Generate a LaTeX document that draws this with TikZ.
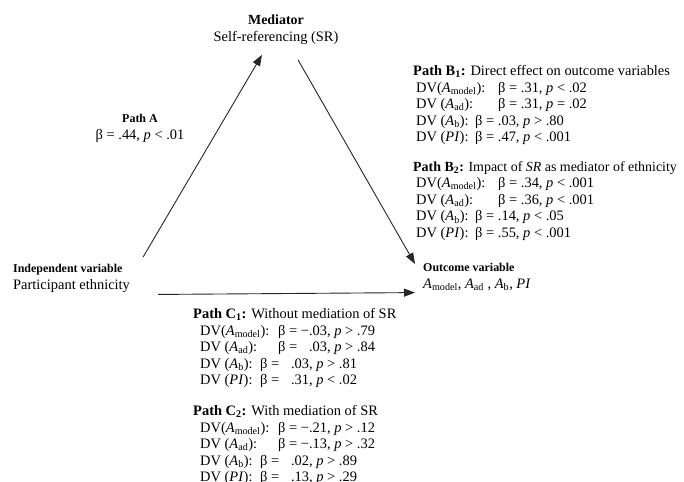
\documentclass[tikz,border=0pt]{standalone}
\usepackage{fontspec}
\setmainfont{Liberation Serif}
\usetikzlibrary{arrows.meta}

\newcommand{\Asub}[1]{\textit{A}\textsubscript{#1}}
\newcommand{\pv}{\textit{p}}

\tikzset{
  arr/.style={-{Triangle[length=11bp,width=8bp]}, line width=0.9bp, draw=black!85},
  txt/.style={font=\fontsize{14.5}{16.7}\selectfont, inner sep=0pt, align=left},
  hd/.style={font=\fontsize{12}{14}\selectfont\bfseries},
}

\begin{document}
\begin{tikzpicture}[x=1bp,y=-1bp]
        \useasboundingbox (0,0) rectangle (684,482);
        % the three variables
        \node[txt, align=center, anchor=north] (med) at (276,15)
          {{\fontsize{14}{16}\selectfont\bfseries Mediator}\\Self-referencing (SR)};
        \node[txt, anchor=north west] (indep) at (13,264)
          {{\fontsize{12}{14}\selectfont\bfseries Independent variable}\\Participant ethnicity};
        \node[txt, anchor=north west] (outc) at (423,263)
          {{\fontsize{12}{14}\selectfont\bfseries Outcome variable}\\\Asub{model}, \Asub{ad} , \Asub{b}, \textit{PI}};
        % paths
        \draw[arr] ([shift={(13,-7)}]indep.north east) -- ([shift={(-14,10)}]med.south);
        \draw[arr] ([shift={(22,15)}]med.south) -- ([shift={(-8,1)}]outc.north west);
        \draw[arr] ([shift={(28,2)}]indep.south east) -- ([shift={(-8,2)}]outc.south west);
        % path coefficients
        \node[txt, align=center, anchor=north] (pathA) at (140,114)
          {{\fontsize{12}{14}\selectfont\bfseries Path A}\\β = .44, \pv{} < .01};
        \node[txt, anchor=north west] (pathB1) at (413,65)
          {\textbf{Path B\textsubscript{1}:} Direct effect on outcome variables\\
           \hspace*{3bp}\makebox[82bp][l]{DV(\Asub{model}):}β = .31, \pv{} < .02\\
           \hspace*{3bp}\makebox[82bp][l]{DV (\Asub{ad}):}β = .31, \pv{} = .02\\
           \hspace*{3bp}\makebox[59bp][l]{DV (\Asub{b}):}β = .03, \pv{} > .80\\
           \hspace*{3bp}\makebox[59bp][l]{DV (\textit{PI}):}β = .47, \pv{} < .001};
        \node[txt, anchor=north west] (pathB2) at (413,161)
          {{\fontsize{14}{16.7}\selectfont\textbf{Path B\textsubscript{2}:} Impact of \textit{SR} as mediator of ethnicity}\\
           \hspace*{3bp}\makebox[82bp][l]{DV(\Asub{model}):}β = .34, \pv{} < .001\\
           \hspace*{3bp}\makebox[82bp][l]{DV (\Asub{ad}):}β = .36, \pv{} < .001\\
           \hspace*{3bp}\makebox[59bp][l]{DV (\Asub{b}):}β = .14, \pv{} < .05\\
           \hspace*{3bp}\makebox[59bp][l]{DV (\textit{PI}):}β = .55, \pv{} < .001};
        \node[txt, anchor=north west] (pathC1) at (193,308)
          {\textbf{Path C\textsubscript{1}:} Without mediation of SR\\
           \hspace*{7bp}\makebox[78bp][l]{DV(\Asub{model}):}β = −.03, \pv{} > .79\\
           \hspace*{7bp}\makebox[78bp][l]{DV (\Asub{ad}):}β = \phantom{−}.03, \pv{} > .84\\
           \hspace*{7bp}\makebox[60bp][l]{DV (\Asub{b}):}β = \phantom{−}.03, \pv{} > .81\\
           \hspace*{7bp}\makebox[60bp][l]{DV (\textit{PI}):}β = \phantom{−}.31, \pv{} < .02};
        \node[txt, anchor=north west] (pathC2) at (193,405)
          {\textbf{Path C\textsubscript{2}:} With mediation of SR\\
           \hspace*{7bp}\makebox[78bp][l]{DV(\Asub{model}):}β = −.21, \pv{} > .12\\
           \hspace*{7bp}\makebox[78bp][l]{DV (\Asub{ad}):}β = −.13, \pv{} > .32\\
           \hspace*{7bp}\makebox[60bp][l]{DV (\Asub{b}):}β = \phantom{−}.02, \pv{} > .89\\
           \hspace*{7bp}\makebox[60bp][l]{DV (\textit{PI}):}β = \phantom{−}.13, \pv{} > .29};
\end{tikzpicture}
\end{document}
